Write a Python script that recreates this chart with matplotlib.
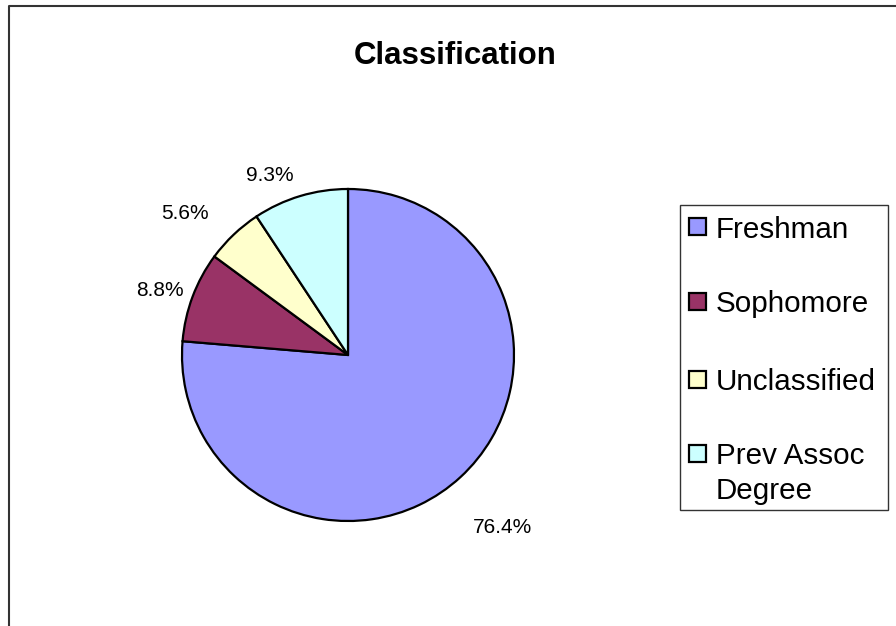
import numpy as np
import matplotlib
matplotlib.use("Agg")
import matplotlib.pyplot as plt
from matplotlib.patches import Rectangle
from matplotlib.lines import Line2D

plt.rcParams['font.family'] = ['Liberation Sans', 'DejaVu Sans']

# ---- data ----
title = "Classification"
categories = ["Freshman", "Sophomore", "Unclassified", "Prev Assoc\nDegree"]
shares = [76.4, 8.8, 5.6, 9.3]
pct_labels = ["76.4%", "8.8%", "5.6%", "9.3%"]
colors = ["#9999FF", "#993366", "#FFFFCC", "#CCFFFF"]

# label placement (radius factor, angle shift in degrees) -- style only
label_r = [1.395, 1.20, 1.30, 1.18]
label_dtheta = [-0.8, 1.7, 5.6, 6.9]

W, H = 896, 626
fig = plt.figure(figsize=(W / 100, H / 100), dpi=100)

# pie axes: centre (348,355) px, radius 166 px
cx, cy, R = 348, 355, 166
ax = fig.add_axes([(cx - R) / W, (H - cy - R) / H, 2 * R / W, 2 * R / H])

wedges, _ = ax.pie(shares, colors=colors, startangle=90, counterclock=False,
                   radius=1.0, wedgeprops=dict(edgecolor='black', linewidth=1.6))
ax.set_xlim(-1, 1)
ax.set_ylim(-1, 1)
ax.set_aspect('equal')
ax.axis('off')

for w, lab, rf, dt in zip(wedges, pct_labels, label_r, label_dtheta):
    mid = np.deg2rad((w.theta1 + w.theta2) / 2 + dt)
    ax.text(rf * np.cos(mid), rf * np.sin(mid), lab, ha='center', va='center',
            fontsize=15, color='black', clip_on=False)

# title
fig.text(455 / W, 1 - 56 / H, title, ha='center', va='center',
         fontsize=22.5, fontweight='bold')

# outer chart frame (cut at right and bottom)
fx, fy = 8.5, 5.5
fig.add_artist(Line2D([fx / W, fx / W, 1.0], [0.0, 1 - fy / H, 1 - fy / H],
                      transform=fig.transFigure, color='#333333', linewidth=1.5))

# legend box
lx0, ly0, lx1, ly1 = 679.5, 204.5, 887.5, 509.5
fig.add_artist(Rectangle((lx0 / W, 1 - ly1 / H), (lx1 - lx0) / W, (ly1 - ly0) / H,
                         transform=fig.transFigure, facecolor='white',
                         edgecolor='#333333', linewidth=1.0))
row_y = [227, 301.5, 379, 453.5]
sq = 17
for name, col, yy in zip(categories, colors, row_y):
    fig.add_artist(Rectangle((689 / W, 1 - (yy + sq / 2) / H), sq / W, sq / H,
                             transform=fig.transFigure, facecolor=col,
                             edgecolor='black', linewidth=1.6))
    fig.text(716 / W, 1 - (yy - 11) / H, name, ha='left', va='top',
             fontsize=21.3, linespacing=1.3)

fig.savefig("out.png", dpi=100, facecolor='white')
